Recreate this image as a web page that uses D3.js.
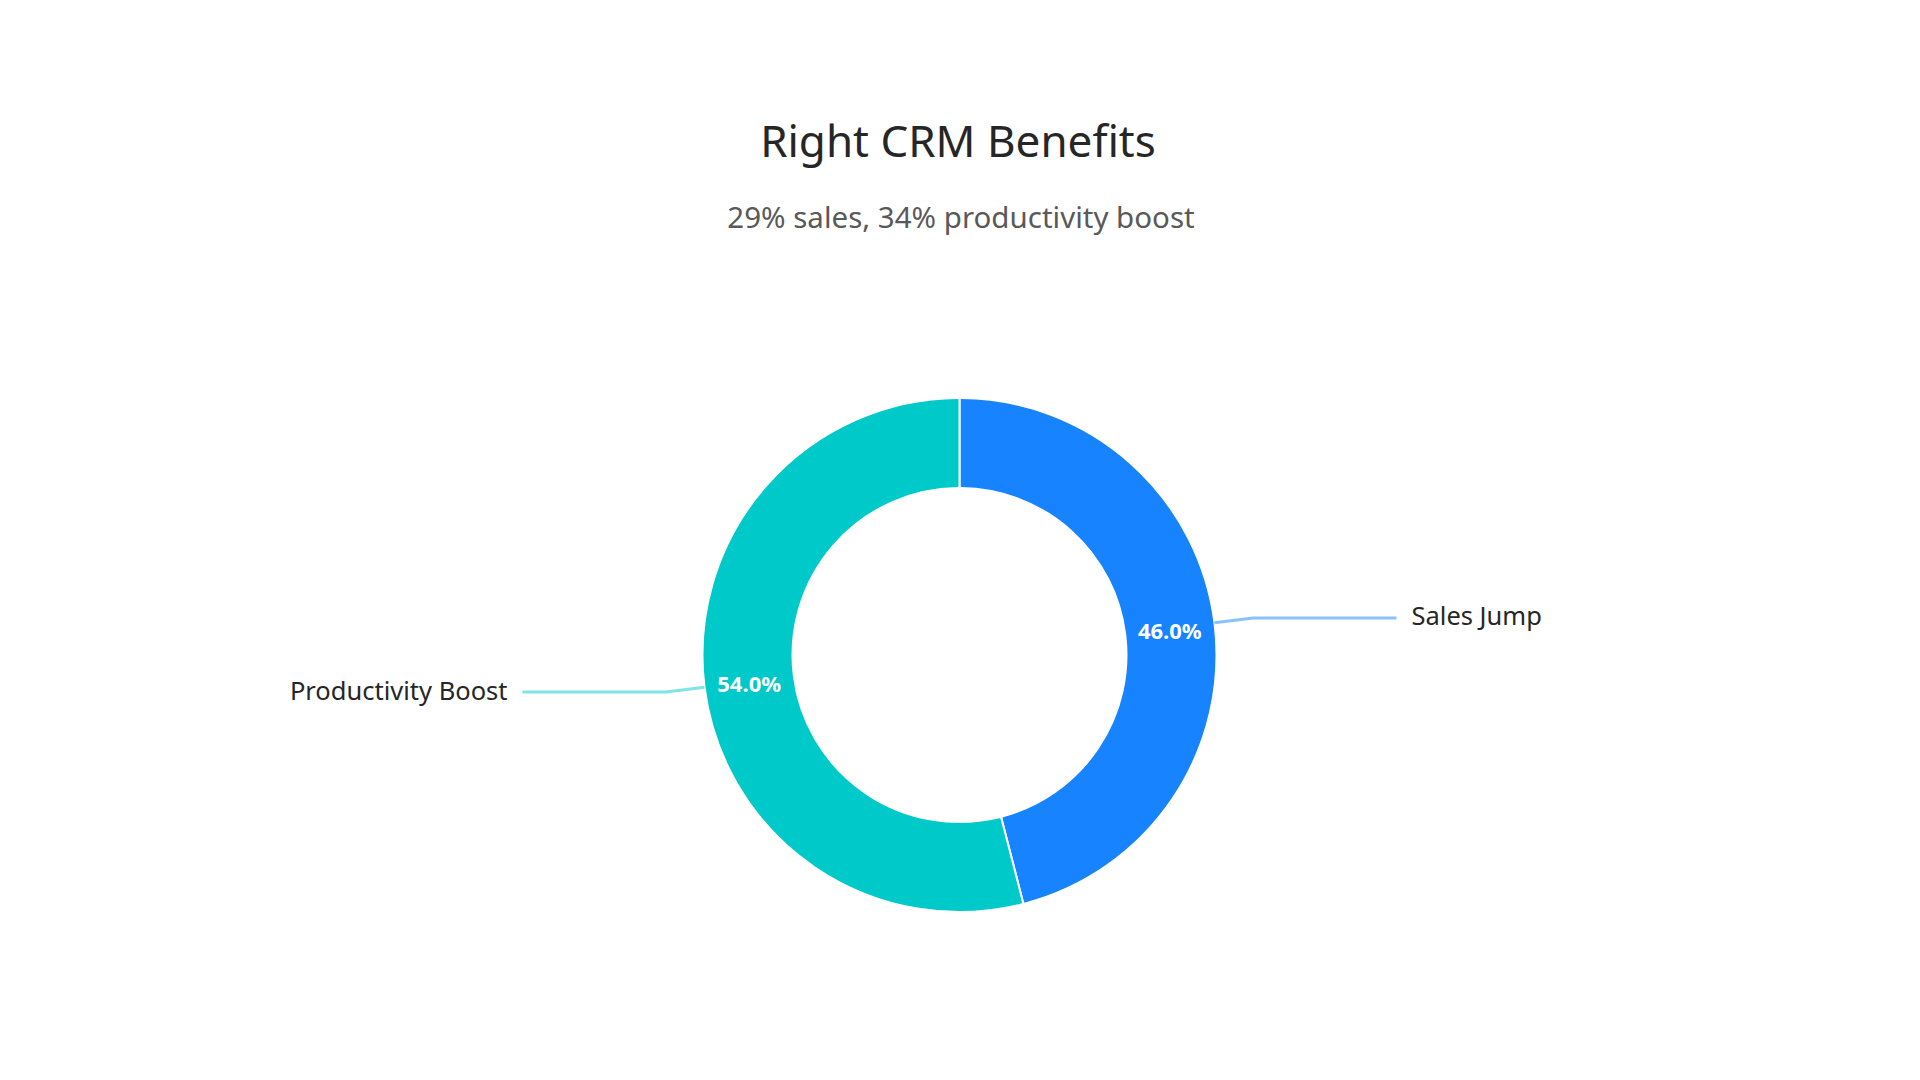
<!DOCTYPE html>
<html>
<head>
<meta charset="utf-8">
<script src="https://cdn.jsdelivr.net/npm/d3@7/dist/d3.min.js"></script>
<style>
  html, body { margin: 0; padding: 0; background: #fff; }
  svg { display: block; }
  text { font-family: "Noto Sans", "Open Sans", sans-serif; }
</style>
</head>
<body>
<svg id="chart" width="1920" height="1080"></svg>
<script>
const categories = ["Sales Jump", "Productivity Boost"];
const values = [46.0, 54.0];
const colors = ["#1783FF", "#00C9C9"];
const titleText = "Right CRM Benefits";
const subtitleText = "29% sales, 34% productivity boost";

const W = 1920, H = 1080;
const cx = 959.5, cy = 655;
const outerR = 257, innerR = 167;

const svg = d3.select("#chart");

svg.append("text")
  .attr("x", 958).attr("y", 157)
  .attr("text-anchor", "middle")
  .attr("font-size", 44)
  .attr("fill", "#262626")
  .text(titleText);

svg.append("text")
  .attr("x", 961).attr("y", 228)
  .attr("text-anchor", "middle")
  .attr("font-size", 29.5)
  .attr("fill", "#595959")
  .text(subtitleText);

const data = categories.map((c, i) => ({ name: c, value: values[i], color: colors[i] }));
const total = d3.sum(values);

const pie = d3.pie().value(d => d.value).sort(null);
const arcs = pie(data);

const arc = d3.arc().innerRadius(innerR).outerRadius(outerR).cornerRadius(2);
const midArc = d3.arc().innerRadius((innerR + outerR) / 2).outerRadius((innerR + outerR) / 2);
const edgeArc = d3.arc().innerRadius(outerR).outerRadius(outerR);
const extArc = d3.arc().innerRadius(outerR + 39).outerRadius(outerR + 39);

const g = svg.append("g").attr("transform", `translate(${cx},${cy})`);

g.selectAll("path.slice")
  .data(arcs)
  .enter().append("path")
  .attr("class", "slice")
  .attr("d", arc)
  .attr("fill", d => d.data.color)
  .attr("stroke", "#fff")
  .attr("stroke-width", 2);

g.selectAll("text.pct")
  .data(arcs)
  .enter().append("text")
  .attr("class", "pct")
  .attr("transform", d => {
    const c = midArc.centroid(d);
    return `translate(${c[0]},${c[1] + 1.5})`;
  })
  .attr("text-anchor", "middle")
  .attr("dominant-baseline", "central")
  .attr("font-size", 22)
  .attr("font-weight", "bold")
  .attr("fill", "#fff")
  .text(d => (d.data.value / total * 100).toFixed(1) + "%");

const labelX = 437;
g.selectAll("polyline.leader")
  .data(arcs)
  .enter().append("polyline")
  .attr("class", "leader")
  .attr("fill", "none")
  .attr("stroke", d => d.data.color)
  .attr("stroke-opacity", 0.5)
  .attr("stroke-width", 3)
  .attr("points", d => {
    const a = edgeArc.centroid(d);
    const b = extArc.centroid(d);
    const mid = (d.startAngle + d.endAngle) / 2;
    const side = mid < Math.PI ? 1 : -1;
    return [a, b, [side * labelX, b[1]]].map(p => p.join(",")).join(" ");
  });

g.selectAll("text.name")
  .data(arcs)
  .enter().append("text")
  .attr("class", "name")
  .each(function (d) {
    const b = extArc.centroid(d);
    const mid = (d.startAngle + d.endAngle) / 2;
    const side = mid < Math.PI ? 1 : -1;
    d3.select(this)
      .attr("x", side * (labelX + 15))
      .attr("y", b[1] - 2.5)
      .attr("text-anchor", side > 0 ? "start" : "end");
  })
  .attr("dominant-baseline", "central")
  .attr("font-size", 25.5)
  .attr("fill", "#262626")
  .text(d => d.data.name);
</script>
</body>
</html>
